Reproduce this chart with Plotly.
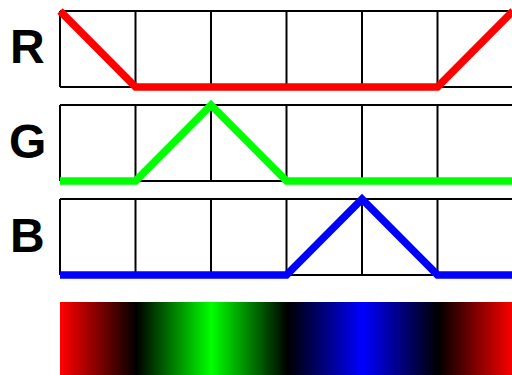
import plotly.graph_objects as go

# Hue positions (six sectors) and the channel profiles across them
hue_pos = [0, 1, 2, 3, 4, 5, 6]
red_vals = [1, 0, 0, 0, 0, 0, 1]
green_vals = [0, 0, 1, 0, 0, 0, 0]
blue_vals = [0, 0, 0, 0, 1, 0, 0]
channel_labels = ["R", "G", "B"]
channel_colors = ["#ff0000", "#00ff00", "#0000ff"]

W, H = 512, 375
X0_PX, COL_PX = 60, 75.5

# pixel rows: (top of value 1, bottom of value 0, domain top, domain bottom)
panels = [(11, 87, 0, 96), (105, 181, 96, 190), (199, 275, 190, 292)]
grad_px = (302, 375)

fig = go.Figure()

x_range = [-X0_PX / COL_PX, (W - X0_PX) / COL_PX]
layout = dict(
    width=W, height=H, margin=dict(l=0, r=0, t=0, b=0),
    paper_bgcolor="white", plot_bgcolor="white", showlegend=False,
    xaxis=dict(domain=[0, 1], range=x_range, visible=False, fixedrange=True),
    xaxis2=dict(domain=[X0_PX / W, 1], range=[0, (W - X0_PX) / COL_PX],
                visible=False, anchor="y4"),
)

shapes = []
annotations = []
series = [red_vals, green_vals, blue_vals]
for i, ((top, bot, dtop, dbot), vals) in enumerate(zip(panels, series)):
    unit = bot - top
    lo = -(dbot - bot) / unit
    hi = 1 + (top - dtop) / unit
    yname = "yaxis" if i == 0 else f"yaxis{i + 1}"
    yref = "y" if i == 0 else f"y{i + 1}"
    layout[yname] = dict(domain=[1 - dbot / H, 1 - dtop / H], range=[lo, hi],
                         visible=False, anchor="x")
    # grid cells
    for xv in hue_pos:
        shapes.append(dict(type="line", xref="x", yref=yref, x0=xv, x1=xv,
                           y0=0, y1=1, line=dict(color="black", width=2),
                           layer="below"))
    for yv in (0, 1):
        shapes.append(dict(type="line", xref="x", yref=yref, x0=hue_pos[0],
                           x1=hue_pos[-1], y0=yv, y1=yv,
                           line=dict(color="black", width=2), layer="below"))
    fig.add_trace(go.Scatter(x=hue_pos, y=vals, mode="lines", xaxis="x",
                             yaxis=yref,
                             line=dict(color=channel_colors[i], width=7.5),
                             hoverinfo="skip"))
    annotations.append(dict(text=f"<b>{channel_labels[i]}</b>", xref="paper",
                            yref="paper", x=27 / W,
                            y=1 - ((top + bot) / 2 - 2) / H,
                            showarrow=False, xanchor="center", yanchor="middle",
                            font=dict(family="Liberation Sans, Arial", size=48,
                                      color="black")))

# gradient strip: colour stops taken from the channel profiles
stops = []
for k, xv in enumerate(hue_pos):
    r, g, b = red_vals[k] * 255, green_vals[k] * 255, blue_vals[k] * 255
    stops.append([xv / hue_pos[-1], f"rgb({r},{g},{b})"])

layout["yaxis4"] = dict(domain=[1 - grad_px[1] / H, 1 - grad_px[0] / H],
                        range=[0, 1], visible=False, anchor="x2")
fig.add_trace(go.Heatmap(x=hue_pos, y=[0, 1], z=[hue_pos, hue_pos],
                         xaxis="x2", yaxis="y4", colorscale=stops,
                         zmin=hue_pos[0], zmax=hue_pos[-1], zsmooth="best",
                         showscale=False, hoverinfo="skip"))

layout["shapes"] = shapes
layout["annotations"] = annotations
fig.update_layout(**layout)
fig.write_html("out.html")
